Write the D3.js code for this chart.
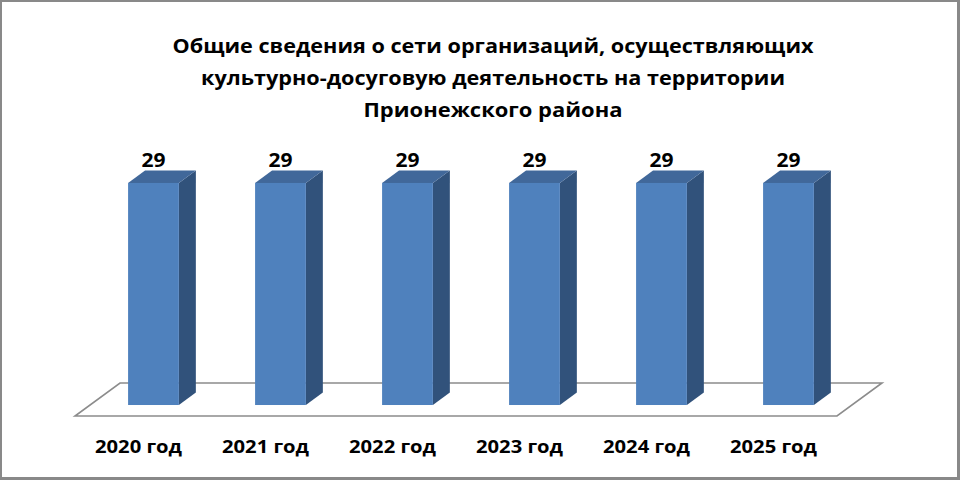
<!DOCTYPE html>
<html><head><meta charset="utf-8">
<script src="https://cdn.jsdelivr.net/npm/d3@7/dist/d3.min.js"></script>
<style>html,body{margin:0;padding:0;background:#fff;}svg{display:block;}</style>
</head><body>
<svg id="c" width="960" height="480"></svg>
<script>
const categories = ["2020 год", "2021 год", "2022 год", "2023 год", "2024 год", "2025 год"];
const values = [29, 29, 29, 29, 29, 29];
const titleLines = [
  "Общие сведения о сети организаций, осуществляющих",
  "культурно-досуговую  деятельность на территории",
  "Прионежского района"
];
const yMax = 35;

const svg = d3.select("#c");
const W = 960, H = 480;
svg.append("rect").attr("x",0).attr("y",0).attr("width",W).attr("height",H).attr("fill","#898989");
svg.append("rect").attr("x",2).attr("y",2).attr("width",955).attr("height",475).attr("fill","#fff");

// floor geometry (front edge) and depth vector
const floorY = 416, depth = {dx:45, dy:-33};
const t0 = 0.333, t1 = 0.71;
const x = d3.scaleBand().domain(categories).range([75, 837]).paddingInner(0.6).paddingOuter(0.3);
const xc = d3.scaleBand().domain(categories).range([75, 837]);
const y = d3.scaleLinear().domain([0, yMax]).range([0, 268]);

const g = svg.append("g");
const p = (px, py) => px + "," + py;
g.append("polygon")
  .attr("points", [
    p(75, floorY), p(837, floorY),
    p(837 + depth.dx, floorY + depth.dy), p(75 + depth.dx, floorY + depth.dy)
  ].join(" "))
  .attr("fill", "#fff").attr("stroke", "#8c8c8c").attr("stroke-width", 1.6);

const ddx = depth.dx * (t1 - t0), ddy = depth.dy * (t1 - t0);
const bars = g.selectAll("g.bar").data(values).join("g").attr("class","bar");
bars.each(function(v, i) {
  const b = d3.select(this);
  const x0 = x(categories[i]) + depth.dx * t0;
  const x1 = x0 + x.bandwidth();
  const yb = floorY + depth.dy * t0;
  const yt = yb - y(v);
  b.append("polygon").attr("points", [p(x1,yb),p(x1+ddx,yb+ddy),p(x1+ddx,yt+ddy),p(x1,yt)].join(" "))
    .attr("fill", "#31527b");
  b.append("polygon").attr("points", [p(x0,yt),p(x1,yt),p(x1+ddx,yt+ddy),p(x0+ddx,yt+ddy)].join(" "))
    .attr("fill", "#41689a");
  b.append("rect").attr("x", x0).attr("y", yt).attr("width", x1 - x0).attr("height", yb - yt)
    .attr("fill", "#4f81bd");
  b.append("text").attr("x", (x0 + x1) / 2).attr("y", yt + ddy - 4)
    .attr("text-anchor", "middle").attr("font-family", "Open Sans, sans-serif")
    .attr("font-weight", "bold").attr("font-size", 19).attr("fill", "#000")
    .attr("textLength", 24).attr("lengthAdjust", "spacingAndGlyphs")
    .text(v);
});

g.selectAll("text.cat").data(categories).join("text").attr("class","cat")
  .attr("x", d => xc(d) + xc.bandwidth() / 2).attr("y", 453)
  .attr("text-anchor", "middle").attr("font-family", "Open Sans, sans-serif")
  .attr("font-weight", "bold").attr("font-size", 18.5).attr("fill", "#000")
  .attr("textLength", 87).attr("lengthAdjust", "spacingAndGlyphs")
  .text(d => d);

const tl = [641, 584, 259];
svg.selectAll("text.title").data(titleLines).join("text").attr("class","title")
  .attr("x", 493).attr("y", (d, i) => 53 + i * 32)
  .attr("text-anchor", "middle").attr("font-family", "Open Sans, sans-serif")
  .attr("font-weight", "bold").attr("font-size", 20).attr("fill", "#000")
  .attr("textLength", (d, i) => tl[i]).attr("lengthAdjust", "spacingAndGlyphs")
  .text(d => d);
</script>
</body></html>
